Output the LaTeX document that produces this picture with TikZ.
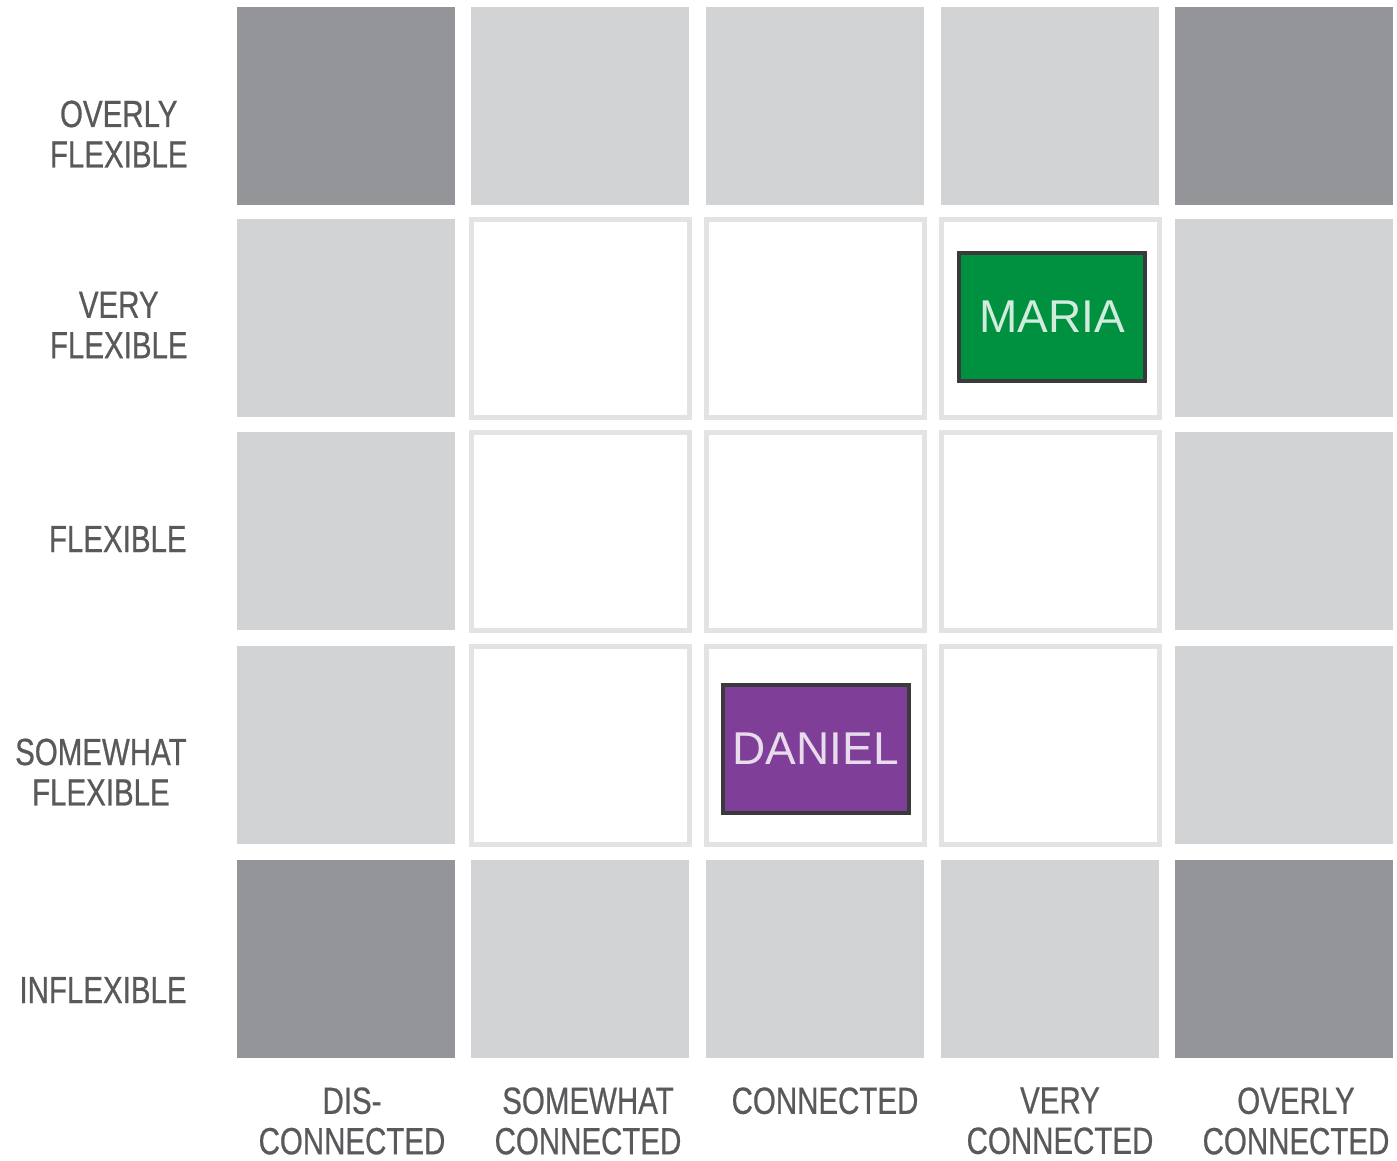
\documentclass[tikz,border=0pt]{standalone}
\usepackage{fontspec}
\setmainfont{Liberation Sans}
\newfontfamily\axisfont[FakeStretch=0.78,FakeBold=0.6]{Liberation Sans}
\definecolor{darkcell}{HTML}{939598}
\definecolor{lightcell}{HTML}{D1D3D4}
\definecolor{cellrim}{HTML}{E2E3E4}
\definecolor{labelgray}{HTML}{58595B}
\definecolor{mariagreen}{HTML}{009140}
\definecolor{danielpurple}{HTML}{7F3F98}
\definecolor{tagrim}{HTML}{3A3A3C}
\begin{document}
\begin{tikzpicture}[x=0.5pt,y=-0.5pt,
  cell/.style={draw=none, minimum width=109pt, minimum height=99pt, inner sep=0pt, outer sep=0pt},
  outercell/.style={cell, fill=lightcell},
  cornercell/.style={cell, fill=darkcell},
  innercell/.style={cell, fill=white, draw=cellrim, line width=2.5pt},
  axislabel/.style={font=\axisfont\fontsize{18.9}{20.2}\selectfont, text=labelgray, align=center, inner sep=0pt},
  nametag/.style={draw=tagrim, line width=2pt, minimum width=93pt, minimum height=64pt, inner sep=0pt,
    font=\fontsize{23}{26}\selectfont},
]
\useasboundingbox (0,0) rectangle (1397,1161);

% grid of 5 x 5 cells
\foreach \x [count=\c] in {237,471,706,941,1175} {
  \foreach \y [count=\r] in {7,219,432,646,860} {
    \pgfmathtruncatemacro{\edge}{(\r==1)||(\r==5)||(\c==1)||(\c==5)}
    \pgfmathtruncatemacro{\corner}{((\r==1)||(\r==5))&&((\c==1)||(\c==5))}
    \ifnum\corner=1
      \node[cornercell] (cell-\r-\c) at (\x+109,\y+99) {};
    \else\ifnum\edge=1
      \node[outercell] (cell-\r-\c) at (\x+109,\y+99) {};
    \else
      \node[innercell] (cell-\r-\c) at (\x+109,\y+99) {};
    \fi\fi
  }
}

% row labels (flexibility)
\node[axislabel, anchor=east] (row-1) at (188,134) {OVERLY\\FLEXIBLE};
\node[axislabel, anchor=east] (row-2) at (188,325) {VERY\\FLEXIBLE};
\node[axislabel, anchor=east] (row-3) at (187,539) {FLEXIBLE};
\node[axislabel, anchor=east] (row-4) at (187,772) {SOMEWHAT\\FLEXIBLE};
\node[axislabel, anchor=east] (row-5) at (187,990) {INFLEXIBLE};

% column labels (connectedness)
\node[axislabel, anchor=north] (col-1) at (352,1087) {DIS-\\CONNECTED};
\node[axislabel, anchor=north] (col-2) at (588,1087) {SOMEWHAT\\CONNECTED};
\node[axislabel, anchor=north] (col-3) at (825,1087) {CONNECTED};
\node[axislabel, anchor=north] (col-4) at (1060,1087) {VERY\\CONNECTED};
\node[axislabel, anchor=north] (col-5) at (1296,1087) {OVERLY\\CONNECTED};

% name tags
\node[nametag, fill=mariagreen, text=white!82!mariagreen] (maria) at (1052,317) {MARIA};
\node[nametag, fill=danielpurple, text=white!82!danielpurple] (daniel) at (815.5,749) {DANIEL};
\end{tikzpicture}
\end{document}
